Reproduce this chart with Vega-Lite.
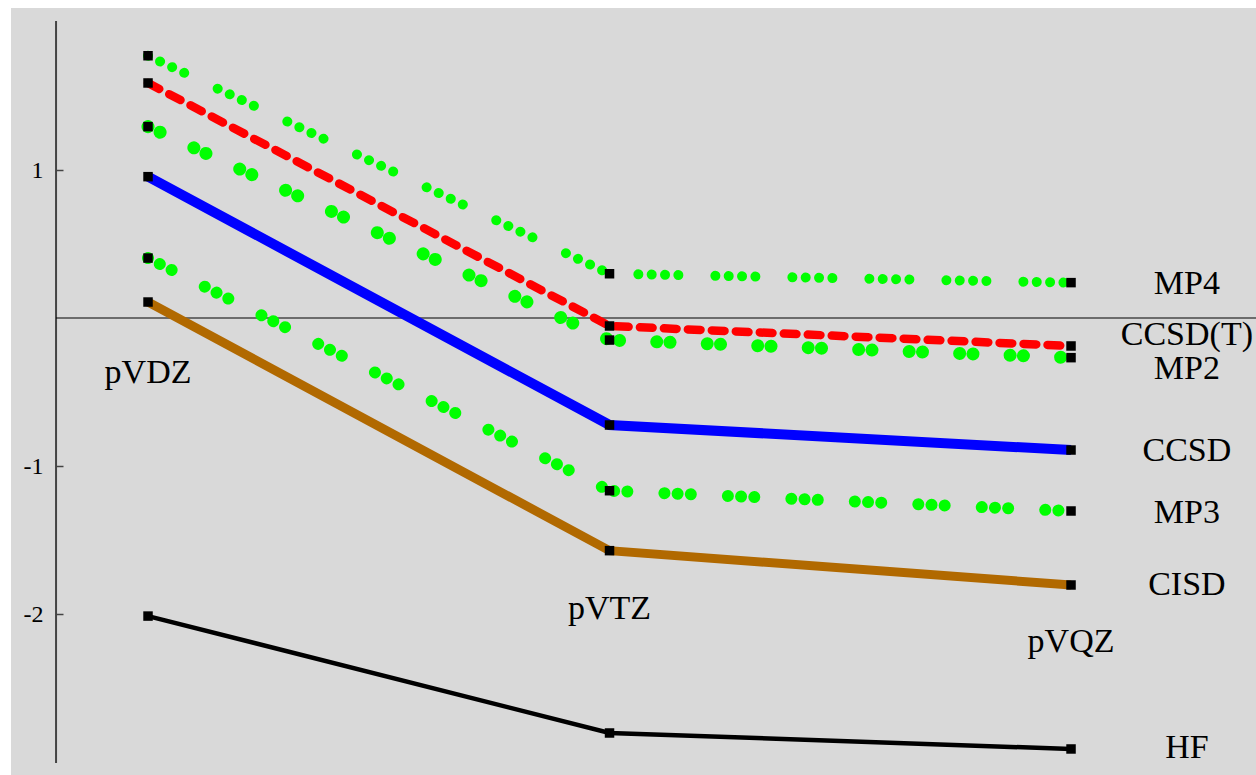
{
  "$schema": "https://vega.github.io/schema/vega-lite/v6.json",
  "width": 1245,
  "height": 767,
  "autosize": {"type": "none"},
  "padding": {"left": 11, "top": 8, "right": 0, "bottom": 0},
  "background": "white",
  "config": {"view": {"stroke": null, "fill": "#d9d9d9"}},
  "datasets": {
    "pts": [
      {"series": "MP4", "x": 0, "y": 1.772}, {"series": "MP4", "x": 1, "y": 0.299}, {"series": "MP4", "x": 2, "y": 0.239},
      {"series": "CCSD(T)", "x": 0, "y": 1.588}, {"series": "CCSD(T)", "x": 1, "y": -0.054}, {"series": "CCSD(T)", "x": 2, "y": -0.189},
      {"series": "MP2", "x": 0, "y": 1.293}, {"series": "MP2", "x": 1, "y": -0.149}, {"series": "MP2", "x": 2, "y": -0.268},
      {"series": "CCSD", "x": 0, "y": 0.955}, {"series": "CCSD", "x": 1, "y": -0.723}, {"series": "CCSD", "x": 2, "y": -0.892},
      {"series": "MP3", "x": 0, "y": 0.405}, {"series": "MP3", "x": 1, "y": -1.167}, {"series": "MP3", "x": 2, "y": -1.304},
      {"series": "CISD", "x": 0, "y": 0.108}, {"series": "CISD", "x": 1, "y": -1.572}, {"series": "CISD", "x": 2, "y": -1.804},
      {"series": "HF", "x": 0, "y": -2.014}, {"series": "HF", "x": 1, "y": -2.804}, {"series": "HF", "x": 2, "y": -2.912}
    ],
    "labels": [
      {"label": "pVDZ", "x": 0, "y": -0.372},
      {"label": "pVTZ", "x": 1, "y": -1.966},
      {"label": "pVQZ", "x": 2, "y": -2.19},
      {"label": "MP4", "x": 2.251, "y": 0.233},
      {"label": "CCSD(T)", "x": 2.251, "y": -0.115},
      {"label": "MP2", "x": 2.251, "y": -0.345},
      {"label": "CCSD", "x": 2.251, "y": -0.899},
      {"label": "MP3", "x": 2.251, "y": -1.318},
      {"label": "CISD", "x": 2.251, "y": -1.804},
      {"label": "HF", "x": 2.251, "y": -2.905}
    ]
  },
  "encoding": {
    "x": {"field": "x", "type": "quantitative", "scale": {"domain": [-0.2969, 2.4008], "nice": false, "zero": false}, "axis": null},
    "y": {"field": "y", "type": "quantitative", "scale": {"domain": [-3.0878, 2.0946], "nice": false, "zero": false},
      "axis": {"values": [1, -1, -2], "offset": -45, "domain": false, "grid": false, "tickSize": -7, "tickColor": "#444444", "tickWidth": 1.5,
        "labelPadding": 20, "labelFont": "Liberation Serif", "labelFontSize": 24, "labelColor": "black", "title": null,
        "labelExpr": "replace(datum.label, '\u2212', '-')"}}
  },
  "layer": [
    {
      "data": {"values": [{"x": -0.1993, "y": 2.007, "y2": -3.007}]},
      "mark": {"type": "rule", "color": "#444444", "strokeWidth": 2},
      "encoding": {"y2": {"field": "y2"}}
    },
    {
      "data": {"values": [{"x": -0.1993, "x2": 2.4008, "y": 0}]},
      "mark": {"type": "rule", "color": "black", "strokeWidth": 1.2},
      "encoding": {"x2": {"field": "x2"}}
    },
    {
      "data": {"name": "pts"},
      "transform": [{"filter": "datum.series == 'HF'"}],
      "mark": {"type": "line", "color": "black", "strokeWidth": 4.5},
      "encoding": {}
    },
    {
      "data": {"name": "pts"},
      "transform": [{"filter": "datum.series == 'CISD'"}],
      "mark": {"type": "line", "color": "#b16900", "strokeWidth": 9},
      "encoding": {}
    },
    {
      "data": {"name": "pts"},
      "transform": [{"filter": "datum.series == 'CCSD'"}],
      "mark": {"type": "line", "color": "#0000ff", "strokeWidth": 10},
      "encoding": {}
    },
    {
      "data": {"name": "pts"},
      "transform": [{"filter": "datum.series == 'MP3'"}],
      "mark": {"type": "line", "color": "#00ff00", "strokeWidth": 12, "strokeCap": "round", "strokeDash": [0.01, 13.2, 0.01, 13.2, 0.01, 37.1]},
      "encoding": {}
    },
    {
      "data": {"name": "pts"},
      "transform": [{"filter": "datum.series == 'MP2'"}],
      "mark": {"type": "line", "color": "#00ff00", "strokeWidth": 13, "strokeCap": "round", "strokeDash": [0.01, 13.3, 0.01, 37.2]},
      "encoding": {}
    },
    {
      "data": {"name": "pts"},
      "transform": [{"filter": "datum.series == 'MP4'"}],
      "mark": {"type": "line", "color": "#00ff00", "strokeWidth": 10, "strokeCap": "round", "strokeDash": [0.01, 13.33, 0.01, 13.33, 0.01, 13.33, 0.01, 37]},
      "encoding": {}
    },
    {
      "data": {"name": "pts"},
      "transform": [{"filter": "datum.series == 'CCSD(T)'"}],
      "mark": {"type": "line", "color": "#ff0000", "strokeWidth": 8.5, "strokeCap": "round", "strokeDash": [12.7, 11.3]},
      "encoding": {}
    },
    {
      "data": {"name": "pts"},
      "mark": {"type": "point", "shape": "square", "filled": true, "color": "black", "size": 90, "opacity": 1},
      "encoding": {}
    },
    {
      "data": {"name": "labels"},
      "mark": {"type": "text", "font": "Liberation Serif", "fontSize": 34, "color": "black", "align": "center", "baseline": "middle"},
      "encoding": {"text": {"field": "label"}}
    }
  ]
}
